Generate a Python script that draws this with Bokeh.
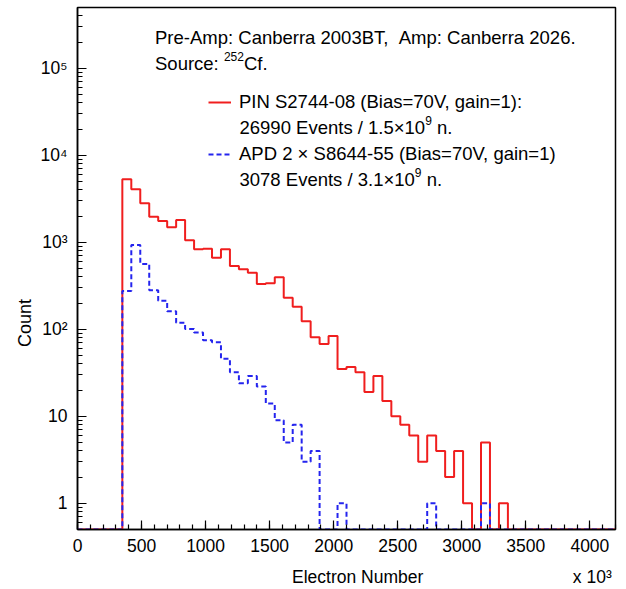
import math
import numpy as np
from bokeh.plotting import figure
from bokeh.models import (Range1d, FixedTicker, SingleIntervalTicker, Label, Legend,
                          LegendItem, LinearAxis, LogAxis)
from bokeh.embed import file_html
from bokeh.resources import INLINE

# ---------------- data ----------------
bin_width = 70            # units of 10^3 electrons
n_bins = 60               # bins from 0 to 4200
x_lo, x_hi = 0, 4200
y_lo, y_hi = 0.5, 5e5

pin_counts = [0, 0, 0, 0, 0,
              5300, 4070, 2810, 1970, 1760, 1490, 1800, 1055, 830, 845,
              665, 830, 534, 490, 448, 332, 338, 396, 231, 182,
              124, 81, 68, 84, 35, 37, 32, 19, 29, 15,
              10, 8, 6, 3, 6, 4, 2, 4, 1, 0,
              5, 0, 1, 0, 0, 0, 0, 0, 0, 0,
              0, 0, 0, 0, 0]
apd_counts = [0, 0, 0, 0, 0,
              275, 930, 565, 282, 213, 161, 119, 101, 92, 75,
              71, 46, 32, 24, 29, 22, 14, 9, 5, 8,
              3, 4, 0, 0, 1, 0, 0, 0, 0, 0,
              0, 0, 0, 0, 1, 0, 0, 0, 0, 0,
              1, 0, 0, 0, 0, 0, 0, 0, 0, 0,
              0, 0, 0, 0, 0]

y_major = [1, 10, 100, 1000, 10000, 100000]
y_major_labels = ["1", "10", "10\u00b2", "10\u00b3", "10\u2074", "10\u2075"]

x_title = "Electron Number"
x_exponent = "x 10\u00b3"
y_title = "Count"

header1 = "Pre-Amp: Canberra 2003BT, \u00a0Amp: Canberra 2026."
source_parts = ("Source: ", "252", "Cf.")
pin_label = "PIN S2744-08 (Bias=70V, gain=1):"
pin_line2 = ("26990 Events / 1.5\u00d710", "9", "\u00a0n.")
apd_label = "APD 2 \u00d7 S8644-55 (Bias=70V, gain=1)"
apd_line2 = ("3078 Events / 3.1\u00d710", "9", "\u00a0n.")

# ---------------- style ----------------
FONT = "Liberation Sans"
RED = "#f01e1e"
BLUE = "#2424ee"
FS = 18.5
SUP = 12
TICK_FS = "17.5px"

W = {' ': 278, '\u00a0': 278, '.': 278, ',': 278, ':': 278, '-': 333, '/': 278, '(': 333,
     ')': 333, '=': 584, '\u00d7': 584, 'A': 667, 'B': 667, 'C': 722, 'E': 667, 'I': 278,
     'N': 722, 'P': 667, 'S': 667, 'T': 611, 'V': 667, 'a': 556, 'b': 556, 'c': 500,
     'e': 556, 'f': 278, 'g': 556, 'i': 222, 'm': 833, 'n': 556, 'o': 556, 'p': 556,
     'r': 333, 's': 500, 't': 278, 'u': 556, 'v': 500, 'x': 500}


def tw(s, size):
    return sum(W.get(c, 556) for c in s) * size / 1000.0


def step_xy(counts):
    edges = np.arange(n_bins + 1) * bin_width
    c = np.maximum(np.asarray(counts, dtype=float), y_lo)  # empty bins sit on the axis floor
    xs = np.repeat(edges, 2)[1:-1]
    ys = np.repeat(c, 2)
    xs = np.concatenate([[edges[0]], xs, [edges[-1]]])
    ys = np.concatenate([[y_lo], ys, [y_lo]])
    return xs, ys


p = figure(frame_width=538, frame_height=522,
           x_range=Range1d(x_lo, x_hi), y_range=Range1d(y_lo, y_hi),
           y_axis_type="log", output_backend="svg", toolbar_location=None,
           min_border_left=77, min_border_right=11, min_border_top=7, min_border_bottom=58)
p.xgrid.visible = False
p.ygrid.visible = False
p.outline_line_color = "black"
p.outline_line_width = 1.5
p.background_fill_color = "white"
p.border_fill_color = "white"

xs, ys = step_xy(pin_counts)
r_pin = p.line(xs, ys, line_color=RED, line_width=2)
xs, ys = step_xy(apd_counts)
r_apd = p.line(xs, ys, line_color=BLUE, line_width=2, line_dash="5 3")

# x axis
xa = p.xaxis[0]
xa.ticker = SingleIntervalTicker(interval=500, num_minor_ticks=5)
xa.major_tick_in = 9
xa.major_tick_out = 0
xa.minor_tick_in = 5
xa.minor_tick_out = 0
xa.axis_line_width = 1.5
xa.major_tick_line_width = 1.2
xa.minor_tick_line_width = 1.2
xa.major_label_text_font = FONT
xa.major_label_text_font_size = TICK_FS
xa.major_label_text_color = "black"
xa.major_label_standoff = 9

# second row under the x axis: title and exponent
xt = LinearAxis(ticker=FixedTicker(ticks=[2187, 4019]),
                major_label_overrides={2187: x_title, 4019: x_exponent},
                axis_line_color=None, major_tick_line_color=None, minor_tick_line_color=None,
                major_label_text_font=FONT, major_label_text_font_size=TICK_FS,
                major_label_text_color="black", major_label_standoff=6)
p.add_layout(xt, "below")

# y axis
ya = p.yaxis[0]
minor = [m * 10.0 ** e for e in range(-1, 6) for m in range(2, 10) if y_lo < m * 10.0 ** e < y_hi]
ya.ticker = FixedTicker(ticks=y_major, minor_ticks=minor)
ya.major_tick_in = 9
ya.major_tick_out = 0
ya.minor_tick_in = 5
ya.minor_tick_out = 0
ya.axis_line_width = 1.5
ya.major_tick_line_width = 1.2
ya.minor_tick_line_width = 1.2
ya.major_label_overrides = dict(zip(y_major, y_major_labels))
ya.major_label_text_font = FONT
ya.major_label_text_font_size = TICK_FS
ya.major_label_text_color = "black"
ya.major_label_standoff = 10

yt = LogAxis(ticker=FixedTicker(ticks=[118]),
             major_label_overrides={118: y_title}, major_label_orientation="vertical",
             axis_line_color=None, major_tick_line_color=None, minor_tick_line_color=None,
             major_label_text_font=FONT, major_label_text_font_size="18px",
             major_label_text_color="black", major_label_standoff=-4)
p.add_layout(yt, "left")


def tlabel(text, dx, dy, size=FS):
    p.add_layout(Label(x=x_lo, y=y_hi, text=text, x_offset=dx, y_offset=dy,
                       text_align="left", text_baseline="middle",
                       text_font=FONT, text_font_size=f"{size}px", text_color="black"))


# header text (offsets from the frame's top-left corner)
tx = 77.5
tlabel(header1, tx, -30)
a, b, c = source_parts
tlabel(a, tx, -56)
sx = tx + tw(a, FS)
tlabel(b, sx, -49, SUP)
tlabel(c, sx + tw(b, SUP), -56)

# legend
leg = Legend(items=[LegendItem(label=pin_label, renderers=[r_pin]),
                    LegendItem(label=apd_label, renderers=[r_apd])],
             location=(131, 364), padding=0, margin=0, spacing=30,
             glyph_width=23, glyph_height=22, label_height=22, label_standoff=8,
             label_text_font=FONT, label_text_font_size=f"{FS}px", label_text_color="black",
             background_fill_alpha=0, border_line_alpha=0)
p.add_layout(leg)

lx = 131 + 23 + 8
for (a, b, c), dy in ((pin_line2, -120), (apd_line2, -172)):
    tlabel(a, lx, dy)
    x2 = lx + tw(a, FS)
    tlabel(b, x2, dy + 7, SUP)
    tlabel(c, x2 + tw(b, SUP), dy)

open("out.html", "w").write(file_html(p, INLINE))
